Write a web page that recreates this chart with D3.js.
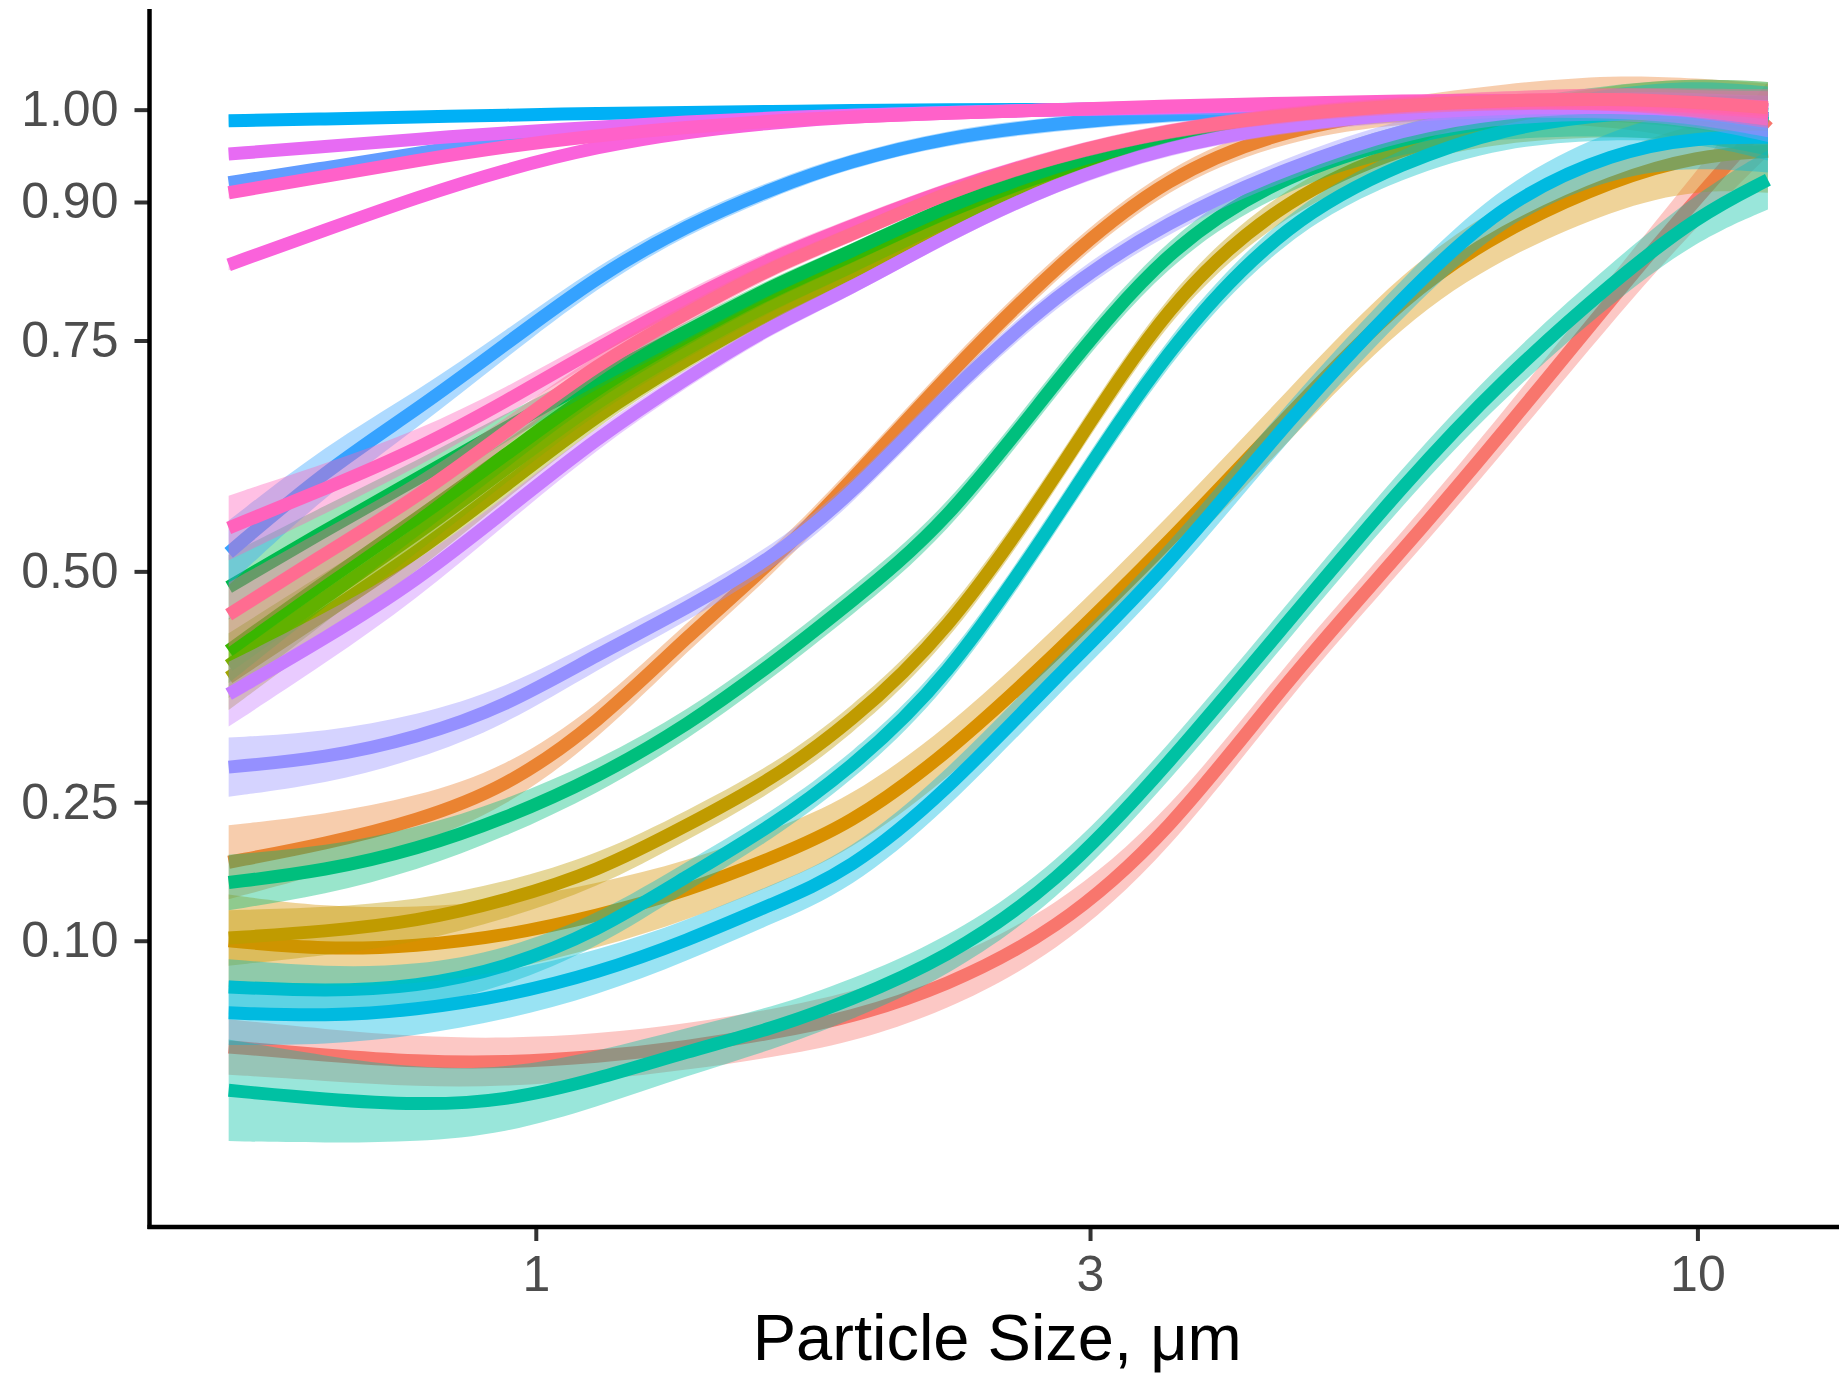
<!DOCTYPE html>
<html>
<head>
<meta charset="utf-8">
<script src="https://cdn.jsdelivr.net/npm/d3@7"></script>
<style>
  body { margin: 0; background: #fff; }
  svg { display: block; }
  text { font-family: "Liberation Sans", Arial, Helvetica, sans-serif; }
</style>
</head>
<body>
<div class="canvas"></div>
<script>
const sizes = [0.544, 0.66, 0.79, 0.94, 1.13, 1.35, 1.6, 1.86, 2.25, 2.8, 3.5, 4.45, 5.6, 6.8, 8.5, 10, 11.5];

// fitted efficiency per group, same order as sizes
const red = [-0.015, -0.024, -0.031, -0.032, -0.026, -0.015, 0.0, 0.016, 0.05, 0.11, 0.215, 0.385, 0.525, 0.65, 0.8, 0.905, 0.99];
const orange = [0.185, 0.205, 0.23, 0.265, 0.335, 0.43, 0.51, 0.595, 0.71, 0.83, 0.93, 0.98, 1.0, 1.008, 1.01, 1.0, 0.99];
const gold = [0.1, 0.09, 0.094, 0.105, 0.127, 0.154, 0.19, 0.225, 0.3, 0.41, 0.53, 0.67, 0.8, 0.87, 0.925, 0.95, 0.955];
const oliveGold = [0.103, 0.11, 0.121, 0.143, 0.175, 0.225, 0.275, 0.335, 0.43, 0.6, 0.795, 0.907, 0.96, 0.985, 1.0, 1.0, 0.99];
const olive = [0.385, 0.455, 0.52, 0.592, 0.67, 0.73, 0.782, 0.818, 0.87, 0.925, 0.963, 0.986, 0.997, 1.0, 1.0, 0.995, 0.985];
const oliveGreen = [0.398, 0.473, 0.54, 0.61, 0.685, 0.742, 0.792, 0.828, 0.88, 0.93, 0.967, 0.988, 0.998, 1.002, 1.002, 0.998, 0.99];
const green = [0.414, 0.49, 0.557, 0.625, 0.7, 0.755, 0.805, 0.84, 0.89, 0.935, 0.97, 0.99, 1.0, 1.004, 1.004, 1.0, 0.99];
const green2 = [0.483, 0.545, 0.6, 0.655, 0.71, 0.76, 0.81, 0.845, 0.895, 0.94, 0.972, 0.991, 1.0, 1.004, 1.004, 1.0, 0.995];
const seaGreen = [0.163, 0.176, 0.199, 0.232, 0.277, 0.333, 0.4, 0.465, 0.55, 0.705, 0.853, 0.932, 0.97, 0.99, 1.0, 1.0, 0.99];
const teal = [-0.062, -0.072, -0.078, -0.074, -0.05, -0.02, 0.005, 0.035, 0.08, 0.16, 0.29, 0.447, 0.596, 0.708, 0.816, 0.885, 0.924];
const cyan = [0.05, 0.045, 0.05, 0.07, 0.11, 0.17, 0.225, 0.285, 0.38, 0.555, 0.745, 0.882, 0.944, 0.98, 0.997, 0.998, 0.985];
const cyanBlue = [0.022, 0.018, 0.025, 0.04, 0.065, 0.1, 0.14, 0.175, 0.26, 0.385, 0.505, 0.665, 0.8, 0.9, 0.955, 0.97, 0.97];
const skyBlue = [0.988, 0.99, 0.992, 0.994, 0.996, 0.997, 0.998, 0.999, 1.0, 1.0, 1.001, 1.003, 1.005, 1.007, 1.006, 1.003, 1.0];
const blue = [0.52, 0.61, 0.675, 0.745, 0.82, 0.875, 0.915, 0.944, 0.97, 0.985, 0.995, 1.0, 1.004, 1.005, 1.004, 0.998, 0.99];
const paleBlue = [0.921, 0.937, 0.953, 0.967, 0.977, 0.985, 0.99, 0.994, 0.997, 1.0, 1.001, 1.002, 1.003, 1.004, 1.003, 1.0, 0.995];
const lilac = [0.288, 0.298, 0.32, 0.353, 0.41, 0.46, 0.515, 0.58, 0.69, 0.8, 0.88, 0.938, 0.98, 0.998, 1.005, 1.0, 0.99];
const purple = [0.367, 0.428, 0.49, 0.565, 0.645, 0.71, 0.767, 0.805, 0.863, 0.92, 0.96, 0.984, 0.996, 1.002, 1.003, 1.0, 0.99];
const magenta = [0.952, 0.96, 0.968, 0.975, 0.981, 0.987, 0.991, 0.994, 0.997, 1.0, 1.002, 1.005, 1.007, 1.008, 1.007, 1.003, 0.998];
const orchid = [0.832, 0.87, 0.905, 0.935, 0.96, 0.976, 0.986, 0.992, 0.996, 1.0, 1.003, 1.006, 1.008, 1.008, 1.007, 1.004, 1.0];
const pink = [0.91, 0.928, 0.945, 0.96, 0.972, 0.981, 0.988, 0.992, 0.996, 1.0, 1.004, 1.007, 1.01, 1.01, 1.008, 1.005, 1.0];
const hotPink = [0.547, 0.59, 0.632, 0.683, 0.742, 0.795, 0.84, 0.873, 0.913, 0.95, 0.978, 0.996, 1.006, 1.01, 1.012, 1.006, 1.0];
const rose = [0.453, 0.52, 0.58, 0.65, 0.725, 0.78, 0.83, 0.863, 0.91, 0.95, 0.978, 0.995, 1.005, 1.01, 1.012, 1.008, 1.002];

// standard errors of the smooths (half width of the bands)
const seTop = [0.006, 0.005, 0.005, 0.004, 0.004, 0.004, 0.004, 0.004, 0.004, 0.004, 0.004, 0.004, 0.004, 0.005, 0.006, 0.008, 0.01];
const seMid = [0.035, 0.027, 0.02, 0.015, 0.012, 0.01, 0.009, 0.008, 0.008, 0.008, 0.008, 0.008, 0.009, 0.01, 0.012, 0.015, 0.02];
const seNarrow = [0.03, 0.026, 0.023, 0.02, 0.018, 0.016, 0.015, 0.015, 0.015, 0.015, 0.015, 0.015, 0.016, 0.02, 0.028, 0.034, 0.04];
const seRed = [0.03, 0.028, 0.027, 0.026, 0.025, 0.025, 0.026, 0.027, 0.027, 0.025, 0.022, 0.02, 0.02, 0.022, 0.025, 0.03, 0.04];
const seOrange = [0.04, 0.032, 0.026, 0.022, 0.018, 0.016, 0.014, 0.013, 0.013, 0.013, 0.012, 0.012, 0.014, 0.02, 0.028, 0.034, 0.038];
const seGold = [0.05, 0.046, 0.042, 0.038, 0.035, 0.032, 0.03, 0.029, 0.028, 0.028, 0.028, 0.028, 0.029, 0.03, 0.032, 0.036, 0.045];
const seTeal = [0.055, 0.047, 0.04, 0.035, 0.03, 0.026, 0.023, 0.022, 0.021, 0.02, 0.02, 0.02, 0.02, 0.021, 0.022, 0.026, 0.032];
const seCyanBlue = [0.035, 0.031, 0.028, 0.026, 0.024, 0.022, 0.021, 0.021, 0.021, 0.021, 0.021, 0.021, 0.021, 0.022, 0.026, 0.032, 0.038];
const seLilac = [0.032, 0.028, 0.024, 0.02, 0.016, 0.014, 0.013, 0.012, 0.012, 0.012, 0.012, 0.012, 0.012, 0.013, 0.015, 0.018, 0.025];

// groups in drawing (hue) order
const seriesValues = [red, orange, gold, oliveGold, olive, oliveGreen, green, green2, seaGreen, teal, cyan, cyanBlue,
  skyBlue, blue, paleBlue, lilac, purple, magenta, orchid, pink, hotPink, rose];
const seriesSe = [seRed, seOrange, seGold, seNarrow, seMid, seMid, seMid, seMid, seNarrow, seTeal, seNarrow, seCyanBlue,
  seTop, seMid, seTop, seLilac, seMid, seTop, seTop, seTop, seMid, seMid];
const seriesColours = ["#F8766D", "#EA8331", "#D89000", "#C09B00", "#A3A500", "#7CAE00", "#39B600", "#00BB4E", "#00BF7D",
  "#00C1A3", "#00BFC4", "#00BAE0", "#00B0F6", "#35A2FF", "#619CFF", "#9590FF", "#C77CFF", "#E76BF3", "#FA62DB",
  "#FF61C9", "#FF62BC", "#FF6C91"];

const yTicks = [0.1, 0.25, 0.5, 0.75, 0.9, 1.0];
const xTicks = [1, 3, 10];

const dims = { width: 1839, height: 1376 };
const panel = { left: 149.5, top: 9, right: 1839, bottom: 1227 };

const svg = d3
  .select(".canvas")
  .append("svg")
  .attr("width", dims.width)
  .attr("height", dims.height);

const x = d3.scaleLog().domain([0.465, 13.24]).range([panel.left, panel.right]);
const y = d3.scaleLinear().domain([-0.21, 1.109]).range([panel.bottom, panel.top]);

// smooths: band first, then line, one group at a time (like geom_smooth)
const band = d3
  .area()
  .x((d) => x(d.size))
  .y0((d) => y(d.fit - d.se))
  .y1((d) => y(d.fit + d.se))
  .curve(d3.curveBasis);

const line = d3
  .line()
  .x((d) => x(d.size))
  .y((d) => y(d.fit))
  .curve(d3.curveBasis);

const graph = svg.append("g");

seriesValues.forEach((vals, i) => {
  const pts = sizes.map((s, j) => ({ size: s, fit: vals[j], se: seriesSe[i][j] }));
  const g = graph.append("g");
  g.append("path")
    .attr("d", band(pts))
    .attr("fill", seriesColours[i])
    .attr("fill-opacity", 0.4);
  g.append("path")
    .attr("d", line(pts))
    .attr("fill", "none")
    .attr("stroke", seriesColours[i])
    .attr("stroke-width", 13);
});

// axes
const yAxis = d3.axisLeft(y).tickValues(yTicks).tickFormat(d3.format(".2f")).tickSize(15).tickPadding(16);
const xAxis = d3.axisBottom(x).tickValues(xTicks).tickFormat(d3.format("d")).tickSize(14).tickPadding(14);

const yAxisGroup = svg.append("g").attr("transform", `translate(${panel.left}, 0)`).call(yAxis);
const xAxisGroup = svg.append("g").attr("transform", `translate(0, ${panel.bottom})`).call(xAxis);

[yAxisGroup, xAxisGroup].forEach((g) => {
  g.select(".domain").remove();
  g.selectAll(".tick line").attr("stroke", "#333333").attr("stroke-width", 4);
  g.selectAll(".tick text").attr("fill", "#4D4D4D").style("font-size", "50px");
});

// axis lines
svg.append("line")
  .attr("x1", panel.left).attr("x2", panel.left)
  .attr("y1", panel.top).attr("y2", panel.bottom + 2)
  .attr("stroke", "#000").attr("stroke-width", 4.5);
svg.append("line")
  .attr("x1", panel.left - 2).attr("x2", panel.right)
  .attr("y1", panel.bottom).attr("y2", panel.bottom)
  .attr("stroke", "#000").attr("stroke-width", 4.5);

// axis title
svg.append("text")
  .attr("x", (panel.left + panel.right) / 2 + 3)
  .attr("y", 1360)
  .attr("text-anchor", "middle")
  .attr("fill", "#000")
  .style("font-size", "65px")
  .text("Particle Size, μm");
</script>
</body>
</html>
